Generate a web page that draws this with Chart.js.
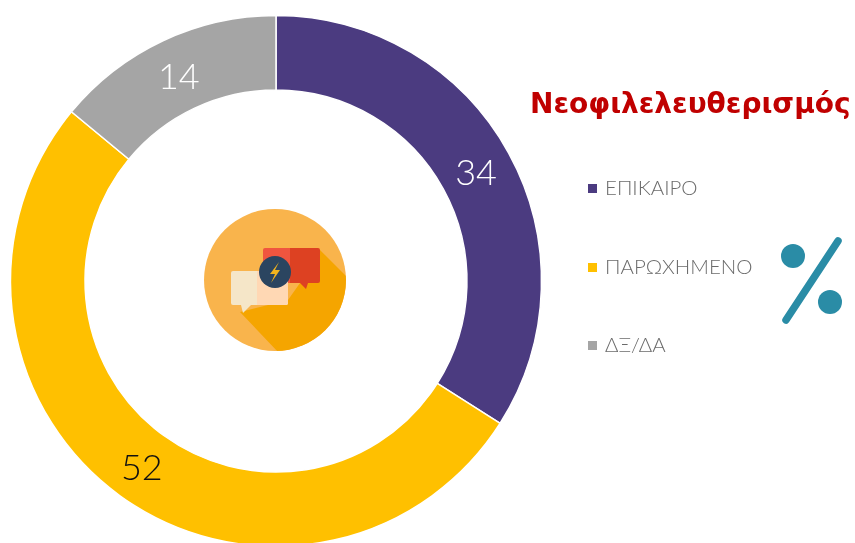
<!DOCTYPE html>
<html lang="el"><head><meta charset="utf-8">
<script src="https://cdn.jsdelivr.net/npm/chart.js@4"></script>
<style>
html,body{margin:0;padding:0;background:#fff;width:855px;height:543px;overflow:hidden}
#stage{position:relative;width:855px;height:543px;overflow:hidden;filter:blur(0.45px);background:#fff}
#c{position:absolute;left:0;top:0}
#title{position:absolute;left:530px;top:86px;font:bold 28px "DejaVu Sans",sans-serif;color:#C00000;white-space:nowrap;line-height:36px}
.lg{position:absolute;left:588px;height:20px;line-height:20px;font:300 20.5px Lato,sans-serif;color:#6b6b6b;white-space:nowrap}
.lg i{display:inline-block;width:9px;height:9px;margin-right:8px;vertical-align:2px}
svg{position:absolute;left:0;top:0}
</style></head><body>
<div id="stage">
<div style="position:absolute;left:0;top:0;width:552px;height:562px"><canvas id="c"></canvas></div>
<svg width="855" height="543" viewBox="0 0 855 543">
<defs><clipPath id="cc"><circle cx="275" cy="280" r="71"/></clipPath></defs>
<circle cx="275" cy="280" r="71" fill="#F9B44C"/>
<polygon clip-path="url(#cc)" fill="#F5A500" points="320,250 360,290 360,380 278,352 240,312 288,300 300,283"/>
<path d="M265 248h53a2 2 0 0 1 2 2v31a2 2 0 0 1-2 2h-10l-2 6-6-6h-37z" fill="#DD4122"/>
<path d="M265 248h25v35h-27v-33a2 2 0 0 1 2-2z" fill="#F0553F"/>
<path d="M233 271h53a2 2 0 0 1 2 2v30a2 2 0 0 1-2 2h-35l-8 8-2-8h-8a2 2 0 0 1-2-2v-30a2 2 0 0 1 2-2z" fill="#F5E6C8"/>
<path d="M257 271h29a2 2 0 0 1 2 2v30a2 2 0 0 1-2 2h-29z" fill="#FFD8B4"/>
<circle cx="275" cy="272" r="16" fill="#2B4560"/>
<polygon points="279,262 270,274 275,274 271,283 280,270 275,270" fill="#F2B41E"/>
<circle cx="793" cy="256" r="12" fill="#2A8CA6"/>
<circle cx="830" cy="302" r="12" fill="#2A8CA6"/>
<line x1="838" y1="241" x2="786" y2="320" stroke="#2A8CA6" stroke-width="7.5" stroke-linecap="round"/>
</svg>
<div id="title"></div>
<div id="legend"></div>
</div>
<script>
const titleText = 'Νεοφιλελευθερισμός';
const categories = ['ΕΠΙΚΑΙΡΟ', 'ΠΑΡΩΧΗΜΕΝΟ', 'Δ\u039E/ΔΑ'];
const values = [34, 52, 14];
const colors = ['#4B3B80', '#FFC000', '#A5A5A5'];
const labelColors = ['#ffffff', '#111111', '#ffffff'];
const legendTops = [175, 254, 332];

document.getElementById('title').textContent = titleText;
const lg = document.getElementById('legend');
categories.forEach((name, i) => {
  const d = document.createElement('div');
  d.className = 'lg';
  d.style.top = legendTops[i] + 'px';
  const sw = document.createElement('i');
  sw.style.background = colors[i];
  d.appendChild(sw);
  d.appendChild(document.createTextNode(name));
  lg.appendChild(d);
});

const sliceLabels = {
  id: 'sliceLabels',
  afterDatasetsDraw(chart) {
    const ctx = chart.ctx;
    chart.getDatasetMeta(0).data.forEach((arc, i) => {
      const p = arc.getCenterPoint();
      ctx.save();
      ctx.font = '300 36px Lato, sans-serif';
      ctx.fillStyle = labelColors[i];
      ctx.textAlign = 'center';
      ctx.textBaseline = 'middle';
      ctx.fillText(String(values[i]), p.x, p.y + 2.5);
      ctx.restore();
    });
  }
};

new Chart(document.getElementById('c'), {
  type: 'doughnut',
  data: { labels: categories, datasets: [{ data: values, backgroundColor: colors, borderColor: '#ffffff', borderWidth: 1.5 }] },
  options: {
    responsive: true, maintainAspectRatio: false, animation: false,
    radius: 265.5, cutout: 198,
    layout: { padding: 0 },
    plugins: { legend: { display: false }, tooltip: { enabled: false } }
  },
  plugins: [sliceLabels]
});
</script>
</body></html>
